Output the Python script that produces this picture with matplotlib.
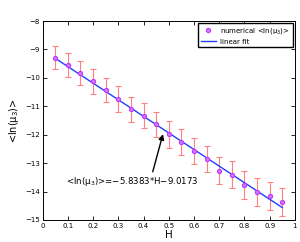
import numpy as np
import matplotlib
matplotlib.use("Agg")
import matplotlib.pyplot as plt

H = [0.05, 0.10, 0.15, 0.20, 0.25, 0.30, 0.35, 0.40, 0.45, 0.50,
     0.55, 0.60, 0.65, 0.70, 0.75, 0.80, 0.85, 0.90, 0.95]
ln_mu3 = [-9.29, -9.54, -9.83, -10.12, -10.42, -10.74, -11.11, -11.33, -11.64, -11.99,
          -12.26, -12.57, -12.85, -13.26, -13.40, -13.76, -14.01, -14.15, -14.36]
err = [0.40, 0.43, 0.42, 0.43, 0.42, 0.45, 0.44, 0.45, 0.45, 0.46,
       0.46, 0.47, 0.47, 0.48, 0.48, 0.49, 0.49, 0.50, 0.50]
slope, intercept = -5.8383, -9.0173

plt.rcParams['font.family'] = ['DejaVu Sans']
fig = plt.figure(figsize=(3.0, 2.42), dpi=100)
ax = fig.add_axes([0.142, 0.091, 0.841, 0.822])

ax.errorbar(H, ln_mu3, yerr=err, fmt='none', ecolor='#ff8080', elinewidth=0.8,
            capsize=2.5, capthick=0.8, zorder=1)
ax.plot(H, ln_mu3, 'o', ms=3.0, mfc='#c080ff', mec='#cc33ff', mew=0.8,
        label='numerical <ln(\u03bc$_3$)>', zorder=3)
hfit = np.array([H[0], H[-1]])
ax.plot(hfit, slope * hfit + intercept, color='#2040ff', lw=1.0, label='linear fit', zorder=2)

ax.annotate('<ln(\u03bc$_3$)>=\u22125.8383*H\u22129.0173', xy=(0.477, -11.98),
            xytext=(0.092, -13.63), fontsize=6.2, va='center',
            arrowprops=dict(arrowstyle='-|>', color='black', lw=1.0,
                            shrinkA=0, shrinkB=0, mutation_scale=8,
                            relpos=(0.65, 1.0)))

ax.set_xlim(0, 1)
ax.set_ylim(-15, -8)
ax.set_xticks(np.arange(0, 1.01, 0.1))
ax.set_xticklabels(['0', '0.1', '0.2', '0.3', '0.4', '0.5', '0.6', '0.7', '0.8', '0.9', '1'])
ax.set_yticks(range(-15, -7))
ax.set_yticklabels(['\u221215', '\u221214', '\u221213', '\u221212', '\u221211', '\u221210', '\u22129', '\u22128'])
ax.tick_params(direction='in', top=True, right=True, labelsize=5, length=3, width=0.6, pad=2)
for s in ax.spines.values():
    s.set_linewidth(0.7)
ax.set_xlabel('H', fontsize=7.5, labelpad=1)
ax.set_ylabel('<ln(\u03bc$_3$)>', fontsize=7, labelpad=3)
ax.legend(loc='upper right', fontsize=5, frameon=True, fancybox=False, edgecolor='black',
          handlelength=2.2, handletextpad=0.6, borderaxespad=0.3, framealpha=1,
          borderpad=0.4, labelspacing=0.4)

fig.savefig('out.png', dpi=100)
